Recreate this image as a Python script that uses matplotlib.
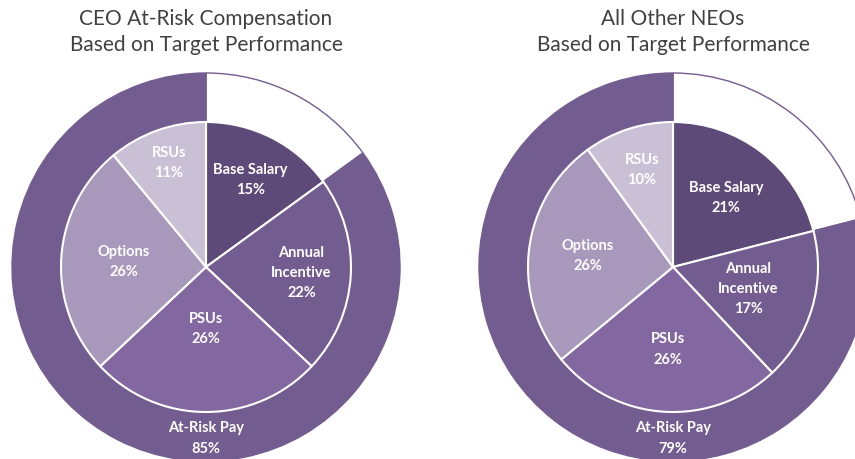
import matplotlib
matplotlib.use("Agg")
import matplotlib.pyplot as plt
import numpy as np

plt.rcParams['font.family'] = ['Lato', 'DejaVu Sans']

titles = ["CEO At-Risk Compensation\nBased on Target Performance",
          "All Other NEOs\nBased on Target Performance"]
parts = ["Base Salary", "Annual\nIncentive", "PSUs", "Options", "RSUs"]
ceo_vals = [15, 22, 26, 26, 11]
neo_vals = [21, 17, 26, 26, 10]
ceo_risk = 85
neo_risk = 79

# styling
colors = ["#5e4a78", "#735c8f", "#8367a0", "#a898bc", "#c9c0d6"]
ring_col = "#735c8f"
centers_x = [206, 673]
center_y = 192
r_out = 194
r_in = 145
# radial position of each inner label, as a fraction of r_in
lbl_r = [[0.67, 0.66, 0.43, 0.57, 0.76],
         [0.60, 0.54, 0.57, 0.59, 0.70]]

fig = plt.figure(figsize=(8.55, 4.59), dpi=100)
ax = fig.add_axes([0, 0, 1, 1])

for k, (vals, risk) in enumerate([(ceo_vals, ceo_risk), (neo_vals, neo_risk)]):
    cx = centers_x[k]
    base = 100 - risk
    ax.pie([base, risk], colors=["white", ring_col], startangle=90,
           counterclock=False, radius=r_out, center=(cx, center_y),
           wedgeprops=dict(edgecolor=ring_col, linewidth=1))
    wedges, texts = ax.pie(vals, colors=colors, startangle=90, counterclock=False,
                           radius=r_in, center=(cx, center_y),
                           labels=[f"{p}\n{v}%" for p, v in zip(parts, vals)],
                           labeldistance=0.6,
                           wedgeprops=dict(edgecolor="white", linewidth=1.5))
    for t, w, f in zip(texts, wedges, lbl_r[k]):
        ang = np.deg2rad((w.theta1 + w.theta2) / 2)
        t.set_position((cx + f * r_in * np.cos(ang), center_y + f * r_in * np.sin(ang)))
        t.set_ha("center")
        t.set_va("center")
        t.set_color("white")
        t.set_fontweight("bold")
        t.set_fontsize(10.5)
        t.set_linespacing(1.55)
    rm = (r_out + r_in) / 2
    ax.text(cx, center_y - rm - 2, f"At-Risk Pay\n{risk}%", ha="center", va="center",
            color="white", fontweight="bold", fontsize=10.5, linespacing=1.55)
    ax.text(cx, 459 - 32, titles[k], ha="center", va="center", color="#404040",
            fontsize=15, linespacing=1.4)

ax.set_xlim(0, 855)
ax.set_ylim(0, 459)
ax.set_aspect("auto")
ax.axis("off")

fig.savefig("out.png", dpi=100)
